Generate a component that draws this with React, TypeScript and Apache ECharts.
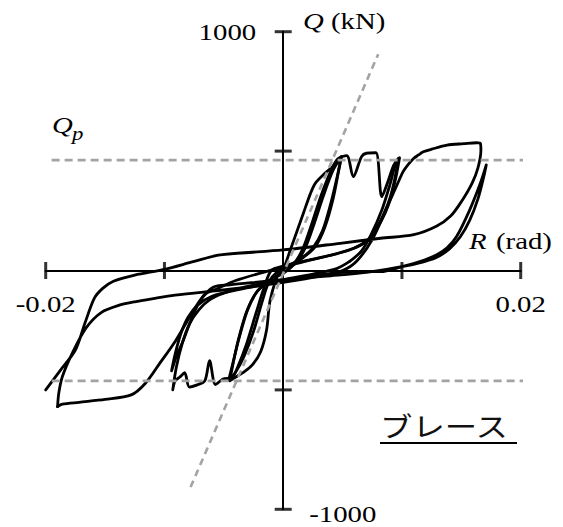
import React, { useEffect, useRef } from 'react';
import * as echarts from 'echarts';

// Axis ranges, ticks and labels
const R_MIN = -0.02;
const R_MAX = 0.02;
const Q_MIN = -1000;
const Q_MAX = 1000;
const R_TICKS = [-0.02, -0.01, 0.01, 0.02];
const Q_TICKS = [-1000, -500, 500, 1000];
const R_LABELS = ['-0.02', '0.02'];
const Q_LABELS = ['1000', '-1000'];

// Plastic strength Qp (kN) and extent of its reference lines (rad)
const QP = 462;
const QP_SPAN = [-0.0195, 0.0203];

// Initial elastic stiffness reference line [R, Q]
const ELASTIC_LINE = [
  [-0.0078, -907],
  [0.008, 906],
];

// Hysteresis record [R (rad), Q (kN)], split by loading cycle
const cycleA = [
  [0, 0], [0.0006, 86], [0.0011, 156], [0.0017, 240], [0.0023, 323], [0.0027, 365],
  [0.0034, 402], [0.0042, 437], [0.0046, 462], [0.0049, 474],
  [0.0047, 425], [0.0042, 300], [0.0035, 180], [0.0027, 100], [0.0017, 55], [0.0007, 25],
  [-0.0003, -5], [-0.0011, -125], [-0.0014, -249], [-0.0019, -340], [-0.0026, -395],
  [-0.0034, -428], [-0.004, -446], [-0.0045, -462],
  [-0.0043, -410], [-0.0038, -295], [-0.0031, -175], [-0.0023, -95], [-0.0013, -48],
  [-0.0003, -18], [0.0005, 8],
];

const cycleB = [
  [0.0005, 8], [0.0012, 40], [0.0019, 100], [0.0026, 195], [0.0034, 315], [0.0042, 420],
  [0.0049, 478],
  [0.0046, 405], [0.004, 280], [0.0033, 165], [0.0025, 95], [0.0015, 50], [0.0005, 22],
  [-0.0005, -6], [-0.0012, -48], [-0.0018, -135], [-0.0025, -255], [-0.0033, -360],
  [-0.004, -425], [-0.0046, -460],
  [-0.0043, -400], [-0.0037, -280], [-0.003, -165], [-0.0022, -88], [-0.0012, -42], [0, -12],
];

const cycleC = [
  [0, -12], [0.0008, 22], [0.0016, 85], [0.0024, 195], [0.0032, 315], [0.004, 415],
  [0.0046, 468], [0.00535, 481], [0.0059, 393], [0.0066, 477], [0.007, 491], [0.0078, 493],
  [0.0083, 309], [0.0088, 370], [0.0093, 440], [0.0097, 470],
  [0.0094, 385], [0.009, 305], [0.0085, 240], [0.0078, 172], [0.007, 122], [0.0058, 90],
  [0.004, 64], [0.002, 42], [0, 18], [-0.001, 0],
  [-0.0016, -70], [-0.0023, -180], [-0.0031, -310], [-0.0038, -400], [-0.0044, -455],
  [-0.0047, -452], [-0.0051, -455], [-0.0057, -478], [-0.0062, -378], [-0.0066, -462],
  [-0.0073, -480], [-0.0079, -488], [-0.0083, -428], [-0.0087, -446], [-0.0091, -462],
  [-0.0093, -500],
  [-0.009, -405], [-0.0085, -305], [-0.0079, -225], [-0.0071, -165], [-0.0061, -120],
  [-0.0046, -88], [-0.0026, -62], [0, -38], [0.0025, -15], [0.0045, 8], [0.0056, 38],
];

const cycleD = [
  [0.0056, 38], [0.0066, 82], [0.0074, 150], [0.0083, 252], [0.009, 362], [0.0095, 452],
  [0.0098, 472],
  [0.0095, 392], [0.0091, 312], [0.0086, 242], [0.0079, 177], [0.0071, 127], [0.006, 94],
  [0.0042, 66], [0.002, 40], [0, 14], [-0.002, -12], [-0.004, -42], [-0.0055, -75],
  [-0.0066, -100], [-0.0073, -155], [-0.0079, -225], [-0.0084, -291], [-0.009, -361],
  [-0.0094, -420],
  [-0.0091, -350], [-0.0086, -262], [-0.008, -195], [-0.0072, -145], [-0.006, -108],
  [-0.004, -82], [-0.002, -62], [0, -42], [0.003, -18], [0.006, -4],
];

const cycleE = [
  [0.006, -4], [0.0082, -5], [0.01, 16], [0.0115, 37], [0.0129, 65], [0.0138, 95],
  [0.0146, 142], [0.0157, 253], [0.0166, 365], [0.0171, 442],
  [0.0169, 395], [0.0164, 300], [0.0157, 210], [0.0149, 140], [0.014, 90], [0.0129, 55],
  [0.0113, 30], [0.0095, 12], [0.007, -8], [0.004, -22], [0.001, -34], [-0.002, -48],
  [-0.0045, -60], [-0.0059, -70],
  [-0.007, -125], [-0.008, -205], [-0.0091, -297], [-0.0104, -389], [-0.0116, -472],
  [-0.0128, -521], [-0.015, -540], [-0.0172, -552], [-0.0186, -560], [-0.019, -570],
];

const cycleF = [
  [-0.019, -570], [-0.0189, -514], [-0.0186, -445], [-0.0177, -340], [-0.0166, -240],
  [-0.0153, -175], [-0.0138, -145], [-0.0125, -131], [-0.0091, -103], [-0.0055, -84],
  [-0.0026, -68], [0, -50], [0.003, -25], [0.005, 0], [0.0062, 40], [0.0075, 130],
  [0.0087, 260], [0.0096, 360], [0.0101, 414], [0.0105, 442], [0.011, 470], [0.0114, 484],
  [0.0118, 497], [0.0125, 508], [0.0138, 525], [0.0152, 531], [0.0163, 535], [0.0166, 532],
  [0.01665, 505], [0.0164, 430], [0.0159, 365], [0.015, 288], [0.0141, 228], [0.0129, 185],
  [0.011, 150], [0.0082, 135], [0.0048, 114], [0, 86], [-0.0053, 65], [-0.0075, 38],
  [-0.01, 5], [-0.0125, -19], [-0.0143, -45], [-0.0152, -75], [-0.0159, -116],
  [-0.0167, -221], [-0.0175, -333], [-0.0188, -420], [-0.02, -500],
];

const CYCLES = [cycleA, cycleB, cycleC, cycleD, cycleE, cycleF];

const SERIF = 'Liberation Serif';
const CJK = 'Noto Sans CJK JP';
const GREY = '#a3a3a3';
// Lettering in this figure is set slightly wide
const TEXT_STRETCH = 1.2;

export default function App() {
  const ref = useRef<HTMLDivElement>(null);

  useEffect(() => {
    if (!ref.current) return;
    const chart = echarts.init(ref.current, undefined, { renderer: 'svg' });

    const curveSeries = CYCLES.map((data) => ({
      type: 'line',
      data,
      symbol: 'none',
      smooth: 0.3,
      clip: false,
      z: 3,
      lineStyle: { color: '#000', width: 2.8, join: 'round', cap: 'round' },
    }));

    const option: any = {
      animation: false,
      backgroundColor: '#fff',
      grid: { left: 45.7, right: 42.3, top: 31.7, bottom: 17.7, containLabel: false },
      xAxis: {
        type: 'value',
        min: R_MIN,
        max: R_MAX,
        interval: 0.01,
        axisLine: { onZero: true, lineStyle: { color: '#000', width: 2 } },
        axisTick: { show: false },
        splitLine: { show: false },
        axisLabel: { show: false },
      },
      yAxis: {
        type: 'value',
        min: Q_MIN,
        max: Q_MAX,
        interval: 500,
        axisLine: { onZero: true, lineStyle: { color: '#000', width: 2 } },
        axisTick: { show: false },
        splitLine: { show: false },
        axisLabel: { show: false },
      },
      series: [
        ...curveSeries,
        {
          type: 'line',
          data: [[QP_SPAN[0], QP], [QP_SPAN[1], QP]],
          symbol: 'none',
          z: 5,
          lineStyle: { color: GREY, width: 2.6, type: [8, 5] },
        },
        {
          type: 'line',
          data: [[QP_SPAN[0], -QP], [QP_SPAN[1], -QP]],
          symbol: 'none',
          z: 5,
          lineStyle: { color: GREY, width: 2.6, type: [8, 5] },
        },
        {
          type: 'line',
          data: ELASTIC_LINE,
          symbol: 'none',
          z: 5,
          lineStyle: { color: GREY, width: 2.6, type: [7, 5] },
        },
        {
          type: 'scatter',
          data: R_TICKS.map((r) => [r, 0]),
          symbol: 'rect',
          symbolSize: [3, 17],
          clip: false,
          z: 6,
          itemStyle: { color: '#000' },
        },
        {
          type: 'scatter',
          data: Q_TICKS.map((q) => [0, q]),
          symbol: 'rect',
          symbolSize: [17, 3],
          clip: false,
          z: 6,
          itemStyle: { color: '#000' },
        },
      ],
    };

    chart.setOption(option);

    const px = (r: number, q: number) =>
      chart.convertToPixel({ gridIndex: 0 }, [r, q]) as number[];
    const top = px(0, Q_MAX);
    const bottom = px(0, Q_MIN);
    const left = px(R_MIN, 0);
    const right = px(R_MAX, 0);

    const txt = (
      x: number,
      y: number,
      text: string,
      opts: { size?: number; italic?: boolean; align?: string; family?: string; color?: string } = {}
    ) => ({
      type: 'text',
      x,
      y,
      scaleX: TEXT_STRETCH,
      z: 10,
      style: {
        text,
        fill: opts.color ?? '#000',
        fontSize: opts.size ?? 24,
        fontFamily: opts.family ?? SERIF,
        fontStyle: opts.italic ? 'italic' : 'normal',
        align: opts.align ?? 'left',
        verticalAlign: 'middle',
      },
    });

    chart.setOption({
      graphic: [
        txt(left[0], left[1] + 33, R_LABELS[0], { align: 'center' }),
        txt(right[0], right[1] + 33, R_LABELS[1], { align: 'center' }),
        txt(top[0] - 27, top[1], Q_LABELS[0], { align: 'right' }),
        txt(bottom[0] + 26, bottom[1] + 5, Q_LABELS[1]),
        txt(303, 20.6, 'Q', { italic: true }),
        txt(331, 20.6, '(kN)'),
        txt(469, 240.4, 'R', { italic: true }),
        txt(496, 240.4, '(rad)'),
        txt(52, 124.6, 'Q', { italic: true }),
        txt(72, 134, 'p', { italic: true, size: 19 }),
        txt(380, 425, 'ブレース', { size: 27, family: CJK, color: '#111' }),
        {
          type: 'line',
          z: 10,
          shape: { x1: 380, y1: 443, x2: 517, y2: 443 },
          style: { stroke: '#000', lineWidth: 2 },
        },
      ],
    });

    return () => chart.dispose();
  }, []);

  return (
    <div
      ref={ref}
      style={{ position: 'absolute', left: 0, top: 0, width: 563, height: 527, background: '#fff' }}
    />
  );
}
